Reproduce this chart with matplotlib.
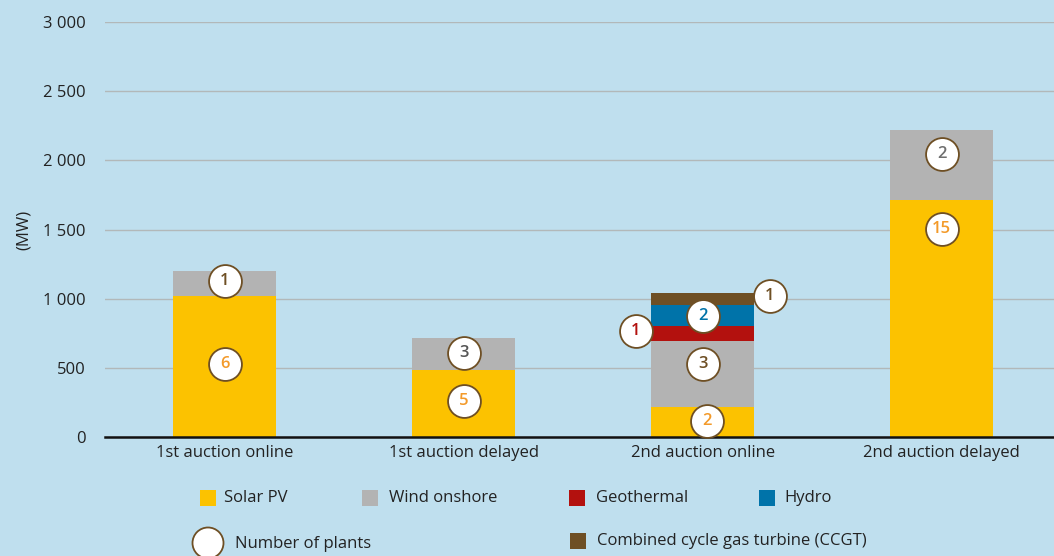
import matplotlib.pyplot as plt
from matplotlib.patches import Rectangle, Ellipse

# data
categories = ["1st auction online", "1st auction delayed", "2nd auction online", "2nd auction delayed"]
solar = [1020, 484, 217, 1714]
wind = [180, 232, 477, 506]
geothermal = [0, 0, 108, 0]
hydro = [0, 0, 152, 0]
ccgt = [0, 0, 87, 0]

# number-of-plants bubbles
bubble_cat = [0, 0, 1, 1, 2, 2, 2, 2, 2, 3, 3]
bubble_dx = [0, 0, 0, 0, 0.02, 0, -0.28, 0, 0.28, 0, 0]
bubble_y = [1130, 528, 607, 260, 116, 528, 766, 875, 1020, 2046, 1504]
bubble_txt = ["1", "6", "3", "5", "2", "3", "1", "2", "1", "2", "15"]
bubble_col = ["#6e4f24", "#f39a2a", "#555555", "#f39a2a", "#f39a2a", "#6e4f24",
              "#b3110e", "#0073a9", "#6e4f24", "#6f6f6f", "#f39a2a"]

yticks = [0, 500, 1000, 1500, 2000, 2500, 3000]
ytick_labels = ["0", "500", "1 000", "1 500", "2 000", "2 500", "3 000"]

bg = "#bfdfee"
c_solar = "#fcc200"
c_wind = "#b3b3b3"
c_geo = "#b3110e"
c_hydro = "#0073a9"
c_ccgt = "#6e4f24"
fs = 12

plt.rcParams['font.family'] = ['Open Sans', 'DejaVu Sans']

W, H = 1054, 556
fig = plt.figure(figsize=(W / 100, H / 100), dpi=100, facecolor=bg)
ax = fig.add_axes([105 / W, (H - 437) / H, (W - 105) / W, (437 - 22) / H])
ax.set_facecolor(bg)

x = list(range(len(categories)))
bw = 0.43
bottom = [0] * 4
for vals, col in [(solar, c_solar), (wind, c_wind), (geothermal, c_geo), (hydro, c_hydro), (ccgt, c_ccgt)]:
    ax.bar(x, vals, bw, bottom=bottom, color=col, zorder=2)
    bottom = [b + v for b, v in zip(bottom, vals)]

ax.set_ylim(0, 3000)
ax.set_xlim(-0.5, 3.47)
ax.set_yticks(yticks)
ax.set_yticklabels(ytick_labels, fontsize=fs, color="#222222")
ax.set_xticks(x)
ax.set_xticklabels(categories, fontsize=fs, color="#222222")
ax.tick_params(axis="y", length=0, pad=14)
ax.tick_params(axis="x", length=0, pad=6)
ax.grid(axis="y", color="#b2b8b9", linewidth=1, zorder=0)
for s in ["left", "right", "top"]:
    ax.spines[s].set_visible(False)
ax.spines["bottom"].set_color("#111111")
ax.spines["bottom"].set_linewidth(1.8)
ax.spines["bottom"].set_zorder(3)
ax.set_ylabel("(MW)", fontsize=fs, color="#222222", labelpad=8)

for ci, dx, yv, t, c in zip(bubble_cat, bubble_dx, bubble_y, bubble_txt, bubble_col):
    ax.scatter(ci + dx, yv, s=560, facecolor="white", edgecolor="#6e4f24", linewidth=1.3, zorder=4, clip_on=False)
    ax.text(ci + dx, yv, t, ha="center", va="center", fontsize=12, fontweight="semibold",
            color=c, zorder=5)

# legend drawn by hand in pixel positions
def sq(px, py, col):
    fig.add_artist(Rectangle((px / W, 1 - (py + 8) / H), 16 / W, 16 / H,
                             transform=fig.transFigure, facecolor=col, edgecolor="none"))

def lab(px, py, t):
    fig.text(px / W, 1 - py / H, t, ha="left", va="center", fontsize=fs, color="#222222")

sq(200, 498, c_solar); lab(224, 498, "Solar PV")
sq(362, 498, c_wind); lab(389, 498, "Wind onshore")
sq(569, 498, c_geo); lab(596, 498, "Geothermal")
sq(759, 498, c_hydro); lab(784, 498, "Hydro")
sq(570, 541, c_ccgt); lab(597, 541, "Combined cycle gas turbine (CCGT)")
fig.add_artist(Ellipse((208 / W, 1 - 543 / H), 31 / W, 31 / H, transform=fig.transFigure,
                       facecolor="white", edgecolor="#6e4f24", linewidth=1.3))
lab(235, 544, "Number of plants")

fig.savefig("out.png", dpi=100, facecolor=bg)
